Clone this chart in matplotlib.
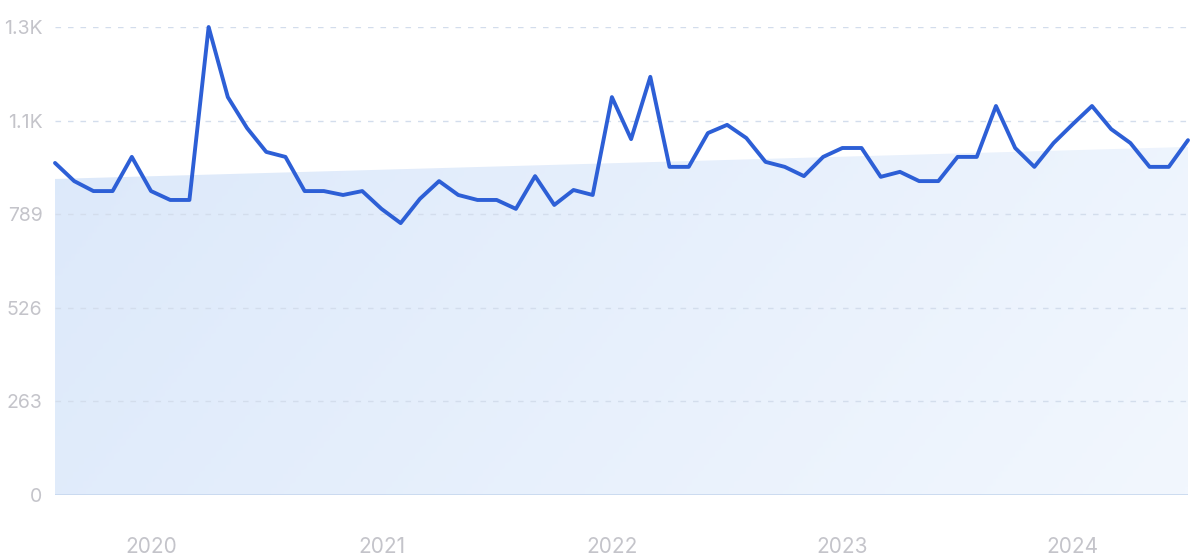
import numpy as np
import matplotlib.pyplot as plt
from matplotlib.colors import LinearSegmentedColormap

plt.rcParams['font.family'] = ['Inter', 'DejaVu Sans']

# monthly values, Aug 2019 .. Jul 2024
values = [933, 882, 854, 854, 950, 854, 829, 829, 1315, 1118,
          1031, 964, 950, 854, 854, 843, 854, 804, 764, 832,
          882, 843, 829, 829, 804, 896, 815, 857, 843, 1118,
          1000, 1175, 922, 922, 1017, 1040, 1003, 936, 922, 896,
          950, 975, 975, 894, 908, 882, 882, 950, 950, 1093,
          975, 922, 989, 1042, 1093, 1028, 989, 922, 922, 997]
trend_ends = [888, 978]
year_labels = ['2020', '2021', '2022', '2023', '2024']
year_index = [5, 17, 29, 41, 53]
yticks = [0, 263, 526, 789, 1052, 1315]
ytick_labels = ['0', '263', '526', '789', '1.1K', '1.3K']

x = np.arange(len(values))
trend = np.linspace(trend_ends[0], trend_ends[1], len(values))

fig = plt.figure(figsize=(12, 5.59), dpi=100)
ax = fig.add_axes([55 / 1200, (559 - 495) / 559, (1188 - 55) / 1200, (495 - 27) / 559])
ax.set_xlim(0, len(values) - 1)
ax.set_ylim(0, 1315)

# gradient area under the trend
poly = ax.fill_between(x, 0, trend, color='none', lw=0)
cmap = LinearSegmentedColormap.from_list('g', ['#dbe8fa', '#f2f7fe'])
gx, gy = np.meshgrid(np.linspace(0, 1, 200), np.linspace(0, 1, 200))
grad = 0.75 * gx + 0.25 * gy
img = ax.imshow(grad, extent=[0, len(values) - 1, 0, 1315], origin='upper',
                cmap=cmap, aspect='auto', zorder=0)
img.set_clip_path(poly.get_paths()[0], transform=ax.transData)

for yv in yticks[1:]:
    ax.axhline(yv, color='#d3ddec', lw=1.0, dashes=(4, 5), zorder=1)
ax.axhline(0, color='#c6d7ee', lw=1.2, zorder=1)

ax.plot(x, values, color='#2d5fd6', lw=2.8, zorder=3, clip_on=False,
        solid_joinstyle='round', solid_capstyle='round')

for s in ax.spines.values():
    s.set_visible(False)
ax.set_yticks(yticks)
ax.set_yticklabels(ytick_labels)
ax.set_xticks(year_index)
ax.set_xticklabels(year_labels)
ax.tick_params(axis='y', length=0, pad=9, labelsize=14, labelcolor='#c4c4ca')
ax.tick_params(axis='x', length=0, pad=30, labelsize=15, labelcolor='#c4c4ca')

fig.savefig('out.png', dpi=100, facecolor='white')
